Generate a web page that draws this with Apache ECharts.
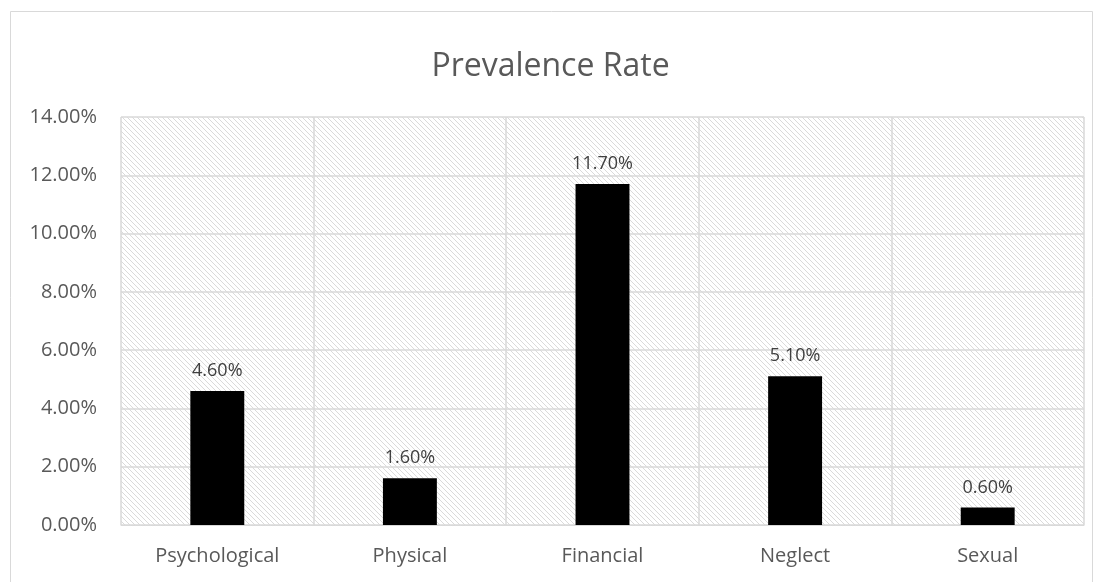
<!DOCTYPE html>
<html>
<head>
<meta charset="utf-8">
<script src="https://cdn.jsdelivr.net/npm/echarts@6/dist/echarts.min.js"></script>
<style>
  html, body { margin: 0; padding: 0; background: #fff; }
  #chart { width: 1101px; height: 582px; }
</style>
</head>
<body>
<div id="chart"></div>
<script>
// Abuse categories and prevalence (%)
const categories = ['Psychological', 'Physical', 'Financial', 'Neglect', 'Sexual'];
const prevalence = [4.6, 1.6, 11.7, 5.1, 0.6];
const yTicks = [0, 2, 4, 6, 8, 10, 12, 14];

// Light downward-diagonal hatch for the plot background
function hatchPattern() {
  const n = 5;
  const c = document.createElement('canvas');
  c.width = n; c.height = n;
  const g = c.getContext('2d');
  g.fillStyle = '#ffffff';
  g.fillRect(0, 0, n, n);
  g.fillStyle = '#dadada';
  for (let i = 0; i < n; i++) g.fillRect(i, i, 1, 1);
  return c;
}

const chart = echarts.init(document.getElementById('chart'), null, { renderer: 'canvas' });
const font = '"Open Sans", "Liberation Sans", sans-serif';

chart.setOption({
  animation: false,
  backgroundColor: '#ffffff',
  title: {
    text: 'Prevalence Rate',
    left: 'center',
    top: 46,
    textStyle: { fontFamily: font, fontSize: 32, fontWeight: 'normal', color: '#595959' }
  },
  graphic: [{
    type: 'rect',
    shape: { x: 10.5, y: 11.5, width: 1082, height: 600 },
    style: { fill: 'none', stroke: '#d9d9d9', lineWidth: 1 },
    silent: true,
    z: -10
  }],
  grid: {
    left: 121, right: 17, top: 117, bottom: 57,
    show: true,
    backgroundColor: { image: hatchPattern(), repeat: 'repeat' },
    borderWidth: 0
  },
  xAxis: {
    type: 'category',
    data: categories,
    boundaryGap: true,
    axisLine: { show: true, lineStyle: { color: '#d9d9d9', width: 1 } },
    axisTick: { show: false },
    splitLine: { show: true, lineStyle: { color: '#d9d9d9', width: 1.5 } },
    axisLabel: { fontFamily: font, fontSize: 20, color: '#595959', margin: 21 }
  },
  yAxis: {
    type: 'value',
    min: yTicks[0],
    max: yTicks[yTicks.length - 1],
    interval: 2,
    axisLine: { show: false },
    axisTick: { show: false },
    splitLine: { show: true, lineStyle: { color: '#d9d9d9', width: 1.5 } },
    axisLabel: {
      fontFamily: font, fontSize: 20, color: '#595959', margin: 24,
      formatter: v => v.toFixed(2) + '%'
    }
  },
  series: [{
    type: 'bar',
    data: prevalence,
    barWidth: '28%',
    itemStyle: { color: '#000000' },
    label: {
      show: true,
      position: 'top',
      distance: 11,
      fontFamily: font,
      fontSize: 18,
      color: '#404040',
      formatter: p => p.value.toFixed(2) + '%'
    }
  }]
});
</script>
</body>
</html>
